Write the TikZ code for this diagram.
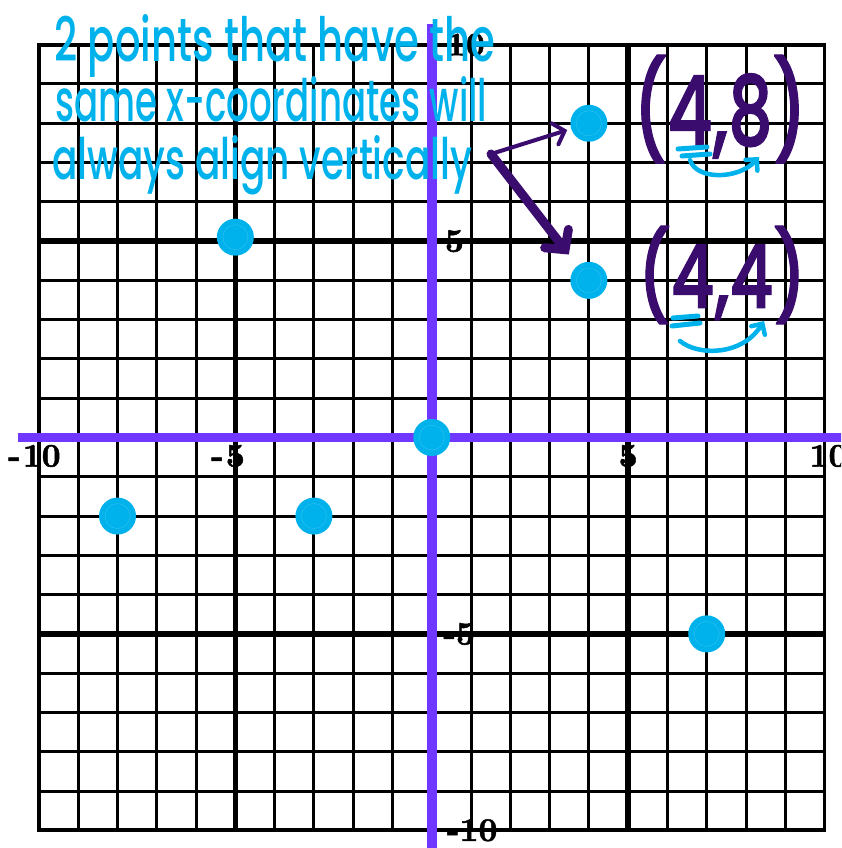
\documentclass[tikz,border=0pt]{standalone}
\usepackage{fontspec}
\usepackage{graphicx}
\newfontfamily\hand{Poppins Medium}
\newfontfamily\handb{Poppins Medium}[FakeBold=1.5]
\newfontfamily\labfont{lmroman10-bold.otf}[FakeBold=1.5]
\usetikzlibrary{arrows.meta}
\definecolor{cyanc}{RGB}{0,178,236}
\definecolor{axp}{RGB}{111,55,255}
\definecolor{darkp}{RGB}{58,12,110}
\begin{document}
\begin{tikzpicture}[x=1pt,y=-1pt,
  gridthin/.style={black,line width=3pt},
  gridthick/.style={black,line width=5.5pt},
  axisline/.style={axp,line width=9.5pt},
  lab/.style={inner sep=0pt,font=\labfont\fontsize{33}{33}\selectfont},
  dot/.style={circle,fill=cyanc,minimum size=37pt,inner sep=0pt,
    path picture={\draw[cyanc!80!white,line width=0.4pt] (path picture bounding box.center) circle (12.5pt);}},
  hw/.style={inner sep=0pt,anchor=base west,text=cyanc,font=\hand},
  pn/.style={inner sep=0pt,text=darkp,font=\handb},
  cyanmark/.style={cyanc,line width=5pt,line cap=round},
  cyanarr/.style={cyanc,line width=4.5pt,line cap=round,-{Straight Barb[length=8pt,width=16pt,line cap=round]}},
  thinarr/.style={darkp,line width=4pt,line cap=round,-{Straight Barb[length=10pt,width=22pt,line cap=round]},shorten >=4pt},
  thickarr/.style={darkp,line width=9pt,line cap=round,-{Straight Barb[length=14pt,width=30pt,line cap=round]},shorten >=14pt}
]
\useasboundingbox (0,0) rectangle (841,848);
\clip (0,0) rectangle (841,848);
\fill[white] (0,0) rectangle (841,848);
\begin{scope}[shift={(431.75,437.5)},x=39.28pt,y=39.28pt]
  \foreach \i in {-9,-8,-7,-6,-4,-3,-2,-1,0,1,2,3,4,6,7,8,9}{
    \draw[gridthin] (\i,-10) -- (\i,10);
    \draw[gridthin] (-10,\i) -- (10,\i);
  }
  \foreach \i in {-5,5}{
    \draw[gridthick] (\i,-10) -- (\i,10);
    \draw[gridthick] (-10,\i) -- (10,\i);
  }
  \draw[line width=3.8pt] (-10,-10) rectangle (10,10);
  \draw[axisline] (-10.53,0) -- (10.7,0);
  \draw[axisline] (0,10.53) -- (0,-10.7);
  % x labels
  \node[lab] (xm10) at (-9.93,-0.47) {\llap{-\kern2pt}10};
  \node[lab] (xm5) at (-5,-0.47) {\llap{-\kern2pt}5};
  \node[lab] (xp5) at (5,-0.47) {5};
  \node[lab] (xp10) at (10.1,-0.47) {10};
  % y labels
  \node[lab,anchor=west] (yp10) at (0.38,10) {10};
  \node[lab,anchor=west] (yp5) at (0.33,5) {5};
  \node[lab,anchor=west] (ym5) at (0.29,-5) {-5};
  \node[lab,anchor=west] (ym10) at (0.38,-10) {-10};
  % points
  \node[dot] (pm8m2) at (-8,-2) {};
  \node[dot] (pm5p5) at (-5,5.1) {};
  \node[dot] (pm3m2) at (-3,-2) {};
  \node[dot] (p00) at (0,0) {};
  \node[dot] (p48) at (4,8) {};
  \node[dot] (p44) at (4,4) {};
  \node[dot] (p7m5) at (7,-5) {};
\end{scope}
% handwritten note
\node[hw] (t1) at (54,62) {\resizebox{441pt}{47pt}{2 points that have the}};
\node[hw] (t2) at (55,122) {\resizebox{432pt}{45pt}{same x-coordinates will}};
\node[hw] (t3) at (52,179) {\resizebox{420pt}{44pt}{always align vertically}};
% coordinate labels
\node[pn] (l48) at (720,109) {\resizebox*{174pt}{108pt}{(4,8)}};
\node[pn] (l44) at (722,275) {\resizebox*{169pt}{98pt}{(4,4)}};
% cyan marks under (4,8)
\coordinate (u1a) at (678,149); \coordinate (u1b) at (707,147);
\coordinate (u2a) at (682,156); \coordinate (u2b) at (710,154);
\draw[cyanmark] (u1a) -- (u1b);
\draw[cyanmark] (u2a) -- (u2b);
\coordinate (c1s) at (690,160); \coordinate (c1e) at (759,157);
\draw[cyanarr] (c1s) .. controls (696,180) and (738,180) .. (c1e);
% cyan marks under (4,4)
\coordinate (v1a) at (673,318); \coordinate (v1b) at (698,316);
\coordinate (v2a) at (672,326); \coordinate (v2b) at (700,323);
\draw[cyanmark] (v1a) -- (v1b);
\draw[cyanmark] (v2a) -- (v2b);
\coordinate (c2s) at (680,341); \coordinate (c2e) at (764,321);
\draw[cyanarr] (c2s) .. controls (698,356) and (742,356) .. (c2e);
% purple arrows
\coordinate (as) at (491,154);
\draw[thinarr] (as) -- (p48);
\draw[thickarr] (as) -- (p44);
\end{tikzpicture}
\end{document}
